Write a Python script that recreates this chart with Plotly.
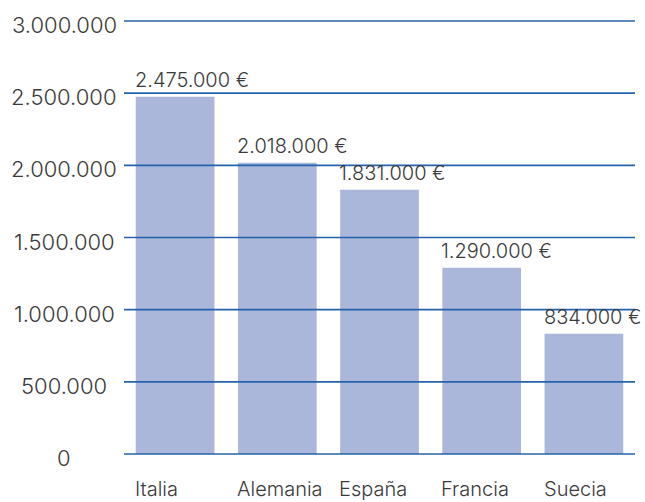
import plotly.graph_objects as go

countries = ["Italia", "Alemania", "España", "Francia", "Suecia"]
values = [2475000, 2018000, 1831000, 1290000, 834000]
tick_values = [0, 500000, 1000000, 1500000, 2000000, 2500000, 3000000]

BAR_COLOR = "#aab6da"
LINE_COLOR = "#2462ab"
TEXT_COLOR = "#3a3a3a"
FONT = "Inter"
BAR_W = 0.77
Y_MAX = 3000000


def fmt(v):
    return f"{v:,}".replace(",", ".")


fig = go.Figure()
fig.add_trace(go.Bar(
    x=list(range(len(countries))),
    y=values,
    width=BAR_W,
    marker=dict(color=BAR_COLOR, line=dict(width=0)),
    hoverinfo="skip",
))

shapes = []
for v in tick_values:
    shapes.append(dict(type="line", xref="paper", x0=0, x1=1, yref="paper",
                       y0=v / Y_MAX, y1=v / Y_MAX,
                       line=dict(color=LINE_COLOR, width=1.6), layer="above"))

annotations = []
for i, (c, v) in enumerate(zip(countries, values)):
    annotations.append(dict(
        x=i - BAR_W / 2, y=v, xref="x", yref="y", text=f"{fmt(v)} €",
        xanchor="left", yanchor="bottom", showarrow=False, yshift=3, xshift=-3,
        font=dict(family=FONT, size=20, color=TEXT_COLOR, weight=300),
    ))
    annotations.append(dict(
        x=i - BAR_W / 2, y=0, xref="x", yref="paper", text=c,
        xanchor="left", yanchor="top", showarrow=False, yshift=-21, xshift=-3,
        font=dict(family=FONT, size=20, color=TEXT_COLOR, weight=300),
    ))
for v in tick_values:
    annotations.append(dict(
        x=0, y=v, xref="paper", yref="y", text=fmt(v),
        xanchor="center", yanchor="middle", showarrow=False, xshift=-60, yshift=-4,
        font=dict(family=FONT, size=22, color=TEXT_COLOR, weight=300),
    ))

fig.update_layout(
    width=645, height=502,
    margin=dict(l=124, r=10, t=21, b=48),
    paper_bgcolor="white", plot_bgcolor="white",
    showlegend=False,
    xaxis=dict(range=[-0.5, len(countries) - 0.5], showticklabels=False, showgrid=False,
               zeroline=False, showline=False, ticks=""),
    yaxis=dict(range=[0, Y_MAX], showticklabels=False, showgrid=False,
               zeroline=False, showline=False, ticks="", tickvals=tick_values),
    shapes=shapes,
    annotations=annotations,
)

fig.write_html("out.html")
